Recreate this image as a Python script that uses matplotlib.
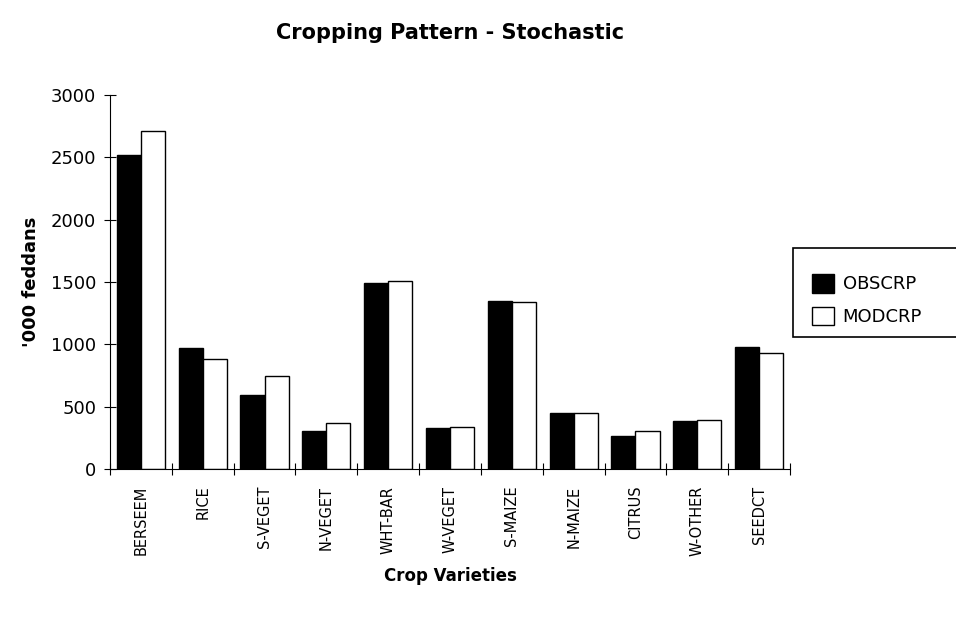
import numpy as np
import matplotlib.pyplot as plt
from matplotlib.patches import Patch, Rectangle

# data ('000 feddans)
crops = ["BERSEEM", "RICE", "S-VEGET", "N-VEGET", "WHT-BAR", "W-VEGET",
         "S-MAIZE", "N-MAIZE", "CITRUS", "W-OTHER", "SEEDCT"]
obscrp = [2520, 970, 590, 305, 1490, 330, 1345, 450, 265, 385, 980]
modcrp = [2710, 880, 745, 370, 1505, 338, 1340, 450, 305, 393, 930]

fig = plt.figure(figsize=(9.56, 6.17), dpi=100)
ax = fig.add_axes([110/956, 1-469/617, 680/956, 374/617])

x = np.arange(len(crops))
w = 0.39
ax.bar(x - w/2, obscrp, w, color="black", edgecolor="black", linewidth=1)
ax.bar(x + w/2, modcrp, w, color="white", edgecolor="black", linewidth=1)

ax.set_xlim(-0.5, len(crops) - 0.5)
ax.set_ylim(0, 3000)
ax.set_yticks(np.arange(0, 3001, 500))
ax.tick_params(axis="y", direction="inout", length=8, labelsize=13, pad=6)

# ticks on category boundaries, labels centred under groups
ax.set_xticks(np.arange(-0.5, len(crops)), minor=False)
ax.set_xticklabels([])
ax.set_xticks(x, minor=True)
ax.set_xticklabels(crops, minor=True, rotation=90, fontsize=10.5)
ax.tick_params(axis="x", which="major", direction="inout", length=8)
ax.tick_params(axis="x", which="minor", length=0, pad=12)

for s in ["top", "right"]:
    ax.spines[s].set_visible(False)

ax.set_ylabel("'000 feddans", fontsize=13, fontweight="bold", labelpad=8)
ax.set_xlabel("Crop Varieties", fontsize=12, fontweight="bold", labelpad=8)
fig.text(450/956, 1-33/617, "Cropping Pattern - Stochastic", ha="center", va="center",
         fontsize=15, fontweight="bold")

# legend box runs off the right edge of the figure
fig.patches.append(Rectangle((793/956, 1-337/617), 170/956, 89/617,
                             transform=fig.transFigure, facecolor="white",
                             edgecolor="black", linewidth=1.2))
handles = [Patch(facecolor="black", edgecolor="black"),
           Patch(facecolor="white", edgecolor="black")]
fig.legend(handles, ["OBSCRP", "MODCRP"], loc="upper left",
           bbox_to_anchor=(803/956, 1-265/617), fontsize=13,
           frameon=False, handlelength=1.2, handleheight=1.2,
           labelspacing=0.75, handletextpad=0.5, borderpad=0)

fig.savefig("out.png", dpi=100)
